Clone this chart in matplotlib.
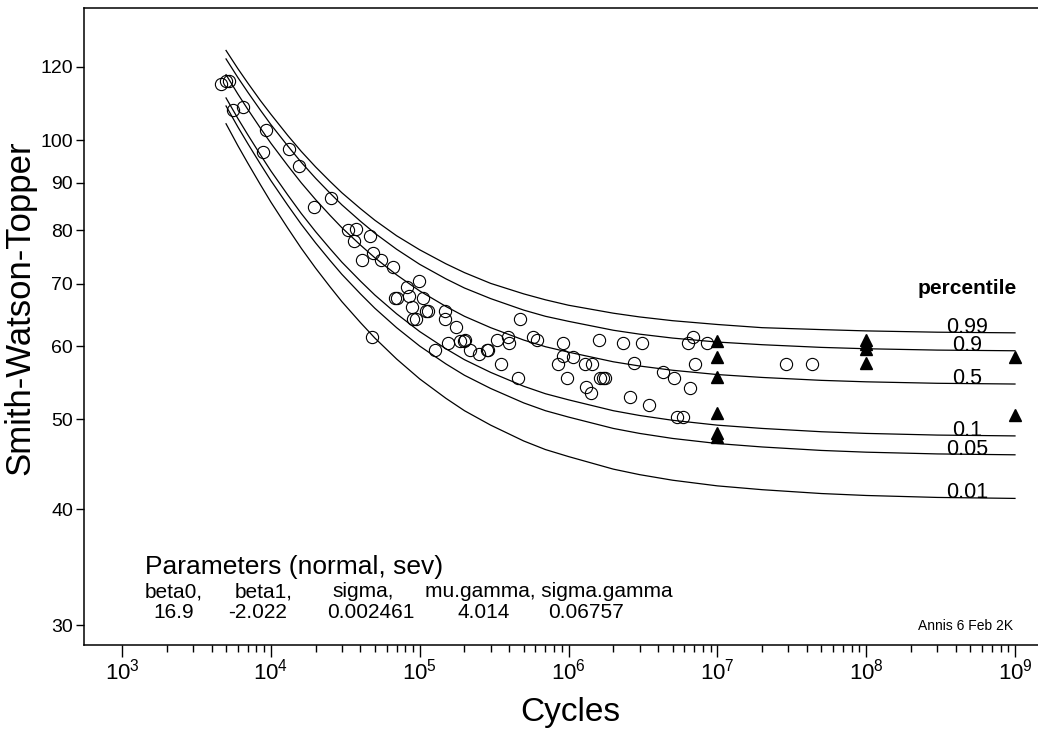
import matplotlib
matplotlib.use("Agg")
import matplotlib.pyplot as plt
from matplotlib.ticker import FixedLocator, NullLocator, FixedFormatter

plt.rcParams['font.family'] = 'Liberation Sans'
plt.rcParams['mathtext.fontset'] = 'custom'
plt.rcParams['mathtext.rm'] = 'Liberation Sans'

# failures (open circles): cycles, Smith-Watson-Topper value
fail_n = [4.63e3, 5.0e3, 5.24e3, 5.57e3, 6.5e3, 9.3e3, 8.9e3, 1.33e4, 1.55e4, 2.54e4,
          1.95e4, 3.30e4, 3.74e4, 3.62e4, 4.64e4, 4.86e4, 4.10e4, 5.5e4, 6.63e4, 9.9e4,
          8.23e4, 6.83e4, 7.05e4, 8.49e4, 1.054e5, 8.89e4, 1.10e5, 1.14e5, 9.03e4, 9.46e4,
          1.48e5, 1.48e5, 1.76e5, 4.79e4, 1.27e5, 1.55e5, 1.87e5, 1.99e5, 2.02e5, 2.18e5,
          2.51e5, 2.84e5, 2.88e5, 3.31e5, 4.73e5, 3.52e5, 3.93e5, 3.99e5, 4.58e5, 5.78e5,
          6.15e5, 9.2e5, 9.2e5, 1.07e6, 8.5e5, 9.8e5, 1.29e6, 1.44e6, 1.61e6, 1.63e6,
          1.71e6, 1.76e6, 1.31e6, 1.42e6, 2.33e6, 2.76e6, 2.59e6, 3.12e6, 6.88e6, 6.37e6,
          8.54e6, 7.1e6, 2.90e7, 4.34e7, 4.32e6, 5.13e6, 6.56e6, 3.48e6, 5.37e6, 5.89e6]
fail_s = [115.1, 115.9, 115.9, 107.8, 108.7, 102.6, 97.2, 97.9, 93.8, 86.7,
          84.8, 80.1, 80.3, 77.9, 78.9, 75.6, 74.3, 74.3, 73.0, 70.5,
          69.5, 67.6, 67.6, 68.0, 67.6, 66.1, 65.5, 65.5, 64.2, 64.2,
          65.5, 64.2, 62.9, 61.4, 59.4, 60.5, 60.8, 60.8, 60.9, 59.4,
          58.85, 59.4, 59.4, 60.9, 64.2, 57.4, 61.4, 60.5, 55.4, 61.4,
          60.9, 60.5, 58.55, 58.4, 57.4, 55.4, 57.4, 57.4, 60.9, 55.4,
          55.4, 55.4, 54.2, 53.4, 60.5, 57.5, 52.9, 60.5, 61.4, 60.5,
          60.5, 57.4, 57.4, 57.4, 56.3, 55.4, 54.1, 51.8, 50.3, 50.3]

# runouts (filled triangles)
runout_n = [1e7, 1e7, 1e7, 1e7, 1e7, 1e7, 1e8, 1e8, 1e8, 1e8, 1e9, 1e9]
runout_s = [60.7, 58.4, 55.6, 50.8, 48.4, 47.9, 60.9, 60.3, 59.5, 57.5, 58.4, 50.5]

# percentile curves
curve_n = [5e3, 6e3, 7e3, 8.5e3, 1e4, 1.3e4, 1.6e4, 2e4, 2.5e4, 3e4, 4e4, 5e4, 7e4, 1e5,
           1.5e5, 2e5, 3e5, 5e5, 7e5, 1e6, 2e6, 3e6, 5e6, 1e7, 2e7, 5e7, 1e8, 3e8, 1e9]
p99 = [125.0, 119.5, 115.3, 110.4, 106.7, 101.2, 97.3, 93.6, 90.3, 87.8, 84.4, 82.0, 78.9, 76.2,
       73.6, 72.0, 70.1, 68.3, 67.3, 66.4, 65.1, 64.5, 63.9, 63.3, 62.8, 62.5, 62.3, 62.1, 62.0]
p90 = [122.4, 116.9, 112.7, 107.8, 104.0, 98.6, 94.7, 91.0, 87.7, 85.2, 81.8, 79.4, 76.3, 73.5,
       70.9, 69.3, 67.5, 65.6, 64.6, 63.8, 62.4, 61.8, 61.2, 60.6, 60.2, 59.8, 59.6, 59.4, 59.3]
p50 = [117.7, 112.2, 108.0, 103.1, 99.3, 93.9, 90.0, 86.3, 83.0, 80.5, 77.1, 74.7, 71.6, 68.8,
       66.2, 64.6, 62.8, 60.9, 59.9, 59.1, 57.7, 57.1, 56.5, 55.9, 55.5, 55.1, 54.9, 54.7, 54.6]
p10 = [111.1, 105.6, 101.4, 96.5, 92.7, 87.3, 83.4, 79.7, 76.4, 73.9, 70.5, 68.1, 65.0, 62.2,
       59.6, 58.0, 56.2, 54.3, 53.3, 52.5, 51.1, 50.5, 49.9, 49.3, 48.9, 48.5, 48.3, 48.1, 48.0]
p05 = [108.9, 103.4, 99.2, 94.3, 90.5, 85.1, 81.2, 77.5, 74.2, 71.7, 68.3, 65.9, 62.8, 60.0,
       57.4, 55.8, 54.0, 52.1, 51.1, 50.3, 48.9, 48.3, 47.7, 47.1, 46.7, 46.3, 46.1, 45.9, 45.8]
p01 = [104.2, 98.7, 94.5, 89.6, 85.8, 80.4, 76.5, 72.8, 69.5, 67.0, 63.6, 61.2, 58.1, 55.3,
       52.7, 51.1, 49.3, 47.4, 46.4, 45.6, 44.2, 43.6, 43.0, 42.4, 42.0, 41.6, 41.4, 41.2, 41.1]
curves = [p99, p90, p50, p10, p05, p01]
curve_labels = ['0.99', '0.9', '0.5', '0.1', '0.05', '0.01']

ytick_vals = [30, 40, 50, 60, 70, 80, 90, 100, 120]
xtick_pows = [3, 4, 5, 6, 7, 8, 9]

W, H = 1038, 732
fig = plt.figure(figsize=(W / 100, H / 100), dpi=100)
ax = fig.add_axes([84 / W, (H - 645) / H, (W - 84) / W, (645 - 8) / H])
ax.set_xscale('log')
ax.set_yscale('log')
ax.set_xlim(10 ** 2.7446, 10 ** 9.1546)
ax.set_ylim(28.56, 138.9)

for c in curves:
    ax.plot(curve_n, c, color='black', lw=0.9)
for c, lab in zip(curves, curve_labels):
    ax.text(4.8e8, c[-1], lab, ha='center', va='baseline', fontsize=15.5)

ax.plot(fail_n, fail_s, 'o', mfc='none', mec='black', mew=0.8, ms=8.8, ls='none')
ax.plot(runout_n, runout_s, '^', color='black', ms=9, ls='none')

for s in ['top', 'left', 'bottom']:
    ax.spines[s].set_linewidth(1.1)
ax.spines['right'].set_visible(False)

ax.yaxis.set_major_locator(FixedLocator(ytick_vals))
ax.yaxis.set_major_formatter(FixedFormatter([str(v) for v in ytick_vals]))
ax.yaxis.set_minor_locator(NullLocator())
ax.xaxis.set_major_locator(FixedLocator([10.0 ** k for k in xtick_pows]))
ax.xaxis.set_major_formatter(FixedFormatter([r'$\mathregular{10^{%d}}$' % k for k in xtick_pows]))
ax.xaxis.set_minor_locator(FixedLocator([m * 10.0 ** k for k in xtick_pows[:-1] for m in range(2, 10)]))
ax.tick_params(axis='y', direction='out', length=6, width=1, labelsize=14, pad=2)
ax.tick_params(axis='x', which='major', direction='out', length=8.5, width=1, labelsize=16, pad=1)
ax.tick_params(axis='x', which='minor', direction='out', length=5, width=1)

fig.text(20 / W, 1 - 308 / H, 'Smith-Watson-Topper', rotation=90, ha='center', va='center', fontsize=25)
fig.text(570 / W, 1 - 712 / H, 'Cycles', ha='center', va='center', fontsize=24)
fig.text(967 / W, 1 - 288 / H, 'percentile', ha='center', va='center', fontsize=15, fontweight='bold')

fig.text(145 / W, 1 - 574 / H, 'Parameters (normal, sev)', fontsize=19, va='baseline')
fig.text(145 / W, 1 - 597 / H, 'beta0,', fontsize=15, va='baseline')
fig.text(235 / W, 1 - 597 / H, 'beta1,', fontsize=15, va='baseline')
fig.text(332 / W, 1 - 597 / H, 'sigma,', fontsize=15, va='baseline')
fig.text(425 / W, 1 - 597 / H, 'mu.gamma, sigma.gamma', fontsize=15, va='baseline')
fig.text(153 / W, 1 - 618 / H, '16.9', fontsize=15, va='baseline')
fig.text(228 / W, 1 - 618 / H, '-2.022', fontsize=15, va='baseline')
fig.text(327 / W, 1 - 618 / H, '0.002461', fontsize=15, va='baseline')
fig.text(458 / W, 1 - 618 / H, '4.014', fontsize=15, va='baseline')
fig.text(548 / W, 1 - 618 / H, '0.06757', fontsize=15, va='baseline')
fig.text(1013 / W, 1 - 630 / H, 'Annis 6 Feb 2K', fontsize=10, ha='right', va='baseline')

fig.savefig('out.png', dpi=100)
